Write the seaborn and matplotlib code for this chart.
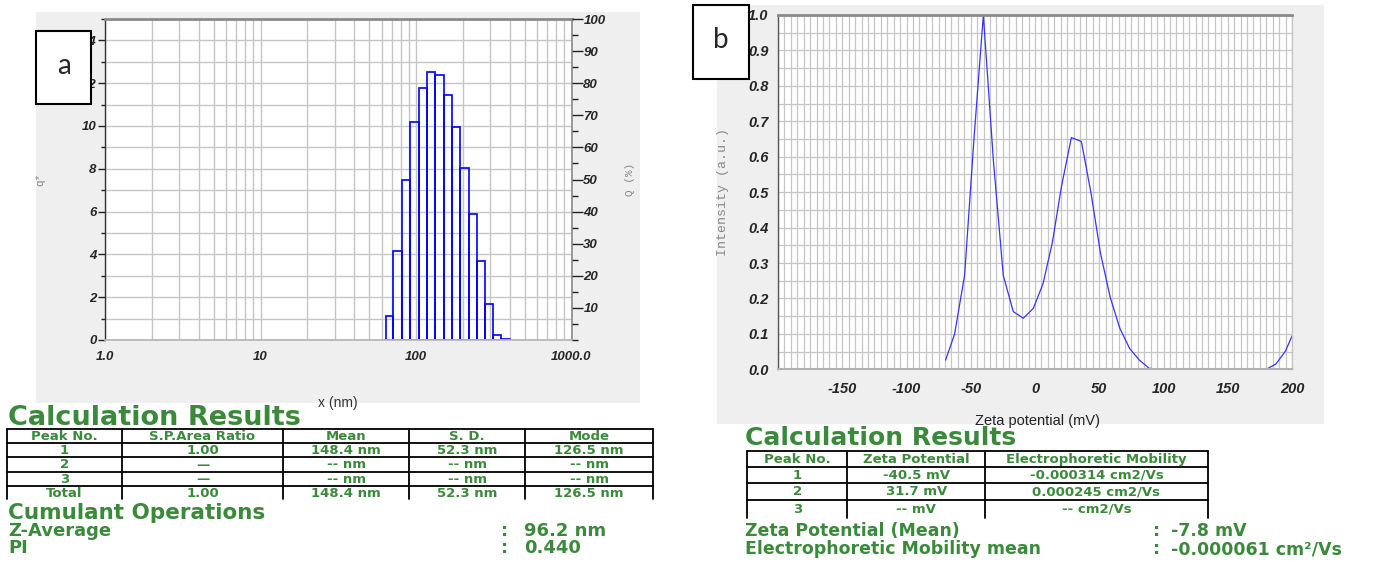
import numpy as np
import pandas as pd
import matplotlib
matplotlib.use("Agg")
import matplotlib.pyplot as plt
from matplotlib.patches import Rectangle
from matplotlib.lines import Line2D
from matplotlib.ticker import MultipleLocator, NullFormatter, LogLocator, FixedLocator
import seaborn as sns

# ---------------- data ----------------
# Panel a: particle size distribution (q*) on log-spaced bins
size_bin_edges_nm = [64.1, 71.5, 80.9, 91.9, 104.1, 117.7, 133.1, 150.7,
                     170.4, 192.7, 218.3, 245.7, 276.6, 312.8, 353.8, 402.2]
size_q_density = [1.14, 4.17, 7.48, 10.17, 11.78, 12.53, 12.38, 11.47,
                  9.97, 8.03, 5.90, 3.67, 1.66, 0.22, 0.03]
size_xtick_values = [1, 10, 100, 1000]
size_xtick_labels = ["1.0", "10", "100", "1000.0"]
size_ytick_values = [0, 2, 4, 6, 8, 10, 12, 14]
q_percent_ticks = [10, 20, 30, 40, 50, 60, 70, 80, 90, 100]

# Panel b: zeta potential distribution
zeta_mv = [-69.6, -62.6, -54.8, -47.5, -40.2, -32.4, -24.7, -16.9, -9.1, -1.3,
           6.2, 13.4, 20.6, 28.3, 36.1, 43.6, 51.0, 58.6, 66.0, 73.6,
           81.2, 88.8, 96.4, 180.0, 187.5, 195.0, 200.0]
zeta_intensity = [0.026, 0.099, 0.265, 0.65, 1.00, 0.59, 0.265, 0.163, 0.144, 0.172,
                  0.241, 0.356, 0.516, 0.654, 0.643, 0.497, 0.327, 0.202, 0.116, 0.059,
                  0.026, 0.003, 0.0, 0.0, 0.015, 0.052, 0.094]
zeta_xtick_values = [-200, -150, -100, -50, 0, 50, 100, 150, 200]
zeta_xtick_labels = ["", "-150", "-100", "-50", "0", "50", "100", "150", "200"]
zeta_ytick_values = [0.0, 0.1, 0.2, 0.3, 0.4, 0.5, 0.6, 0.7, 0.8, 0.9, 1.0]

# Result tables
size_table_header = ["Peak No.", "S.P.Area Ratio", "Mean", "S. D.", "Mode"]
size_table_rows = [["1", "1.00", "148.4 nm", "52.3 nm", "126.5 nm"],
                   ["2", "—", "-- nm", "-- nm", "-- nm"],
                   ["3", "—", "-- nm", "-- nm", "-- nm"],
                   ["Total", "1.00", "148.4 nm", "52.3 nm", "126.5 nm"]]
size_summary_labels = ["Z-Average", "PI"]
size_summary_values = ["96.2 nm", "0.440"]
zeta_table_header = ["Peak No.", "Zeta Potential", "Electrophoretic Mobility"]
zeta_table_rows = [["1", "-40.5 mV", "-0.000314 cm2/Vs"],
                   ["2", "31.7 mV", "0.000245 cm2/Vs"],
                   ["3", "-- mV", "-- cm2/Vs"]]
zeta_summary_labels = ["Zeta Potential (Mean)", "Electrophoretic Mobility mean"]
zeta_summary_values = ["-7.8 mV", "-0.000061 cm²/Vs"]

# ---------------- style ----------------
sns.set_style("white")
plt.rcParams['font.family'] = ['DejaVu Sans']
plt.rcParams['axes.unicode_minus'] = False

W, H = 1376, 563
fig = plt.figure(figsize=(W / 100, H / 100), dpi=100)
fig.patch.set_facecolor("white")


def fig_rect(l, t, r, b):
    return [l / W, 1 - b / H, (r - l) / W, (b - t) / H]


PANEL_BG = "#efefef"
GRID = "#c6c6c6"
GREEN = "#3b8a3b"
TICKFONT = dict(fontfamily="Liberation Sans", fontweight="bold", fontstyle="italic")

# background layer (pixel coordinates)
bg = fig.add_axes([0, 0, 1, 1], zorder=0)
bg.set_xlim(0, W); bg.set_ylim(H, 0); bg.axis("off")
bg.add_patch(Rectangle((36, 12), 604, 391, color=PANEL_BG, lw=0))
bg.add_patch(Rectangle((717, 5), 607, 419, color=PANEL_BG, lw=0))

# ---------------- panel a ----------------
ax_a = fig.add_axes(fig_rect(105, 19, 571.5, 340), zorder=1)
ax_a.set_facecolor("white")
edges = np.array(size_bin_edges_nm, dtype=float)
size_df = pd.DataFrame({"size_nm": np.sqrt(edges[:-1] * edges[1:]),
                        "q": np.array(size_q_density, dtype=float)})
sns.histplot(data=size_df, x="size_nm", weights="q",
             bins=[float(v) for v in np.log10(edges)],
             log_scale=True, fill=False, element="bars", color="#0000ff",
             linewidth=1.2, ax=ax_a)
ax_a.set_xlim(1, 1000)
ax_a.set_ylim(0, 15)
ax_a.set_axisbelow(True)
ax_a.xaxis.set_major_locator(FixedLocator(size_xtick_values))
ax_a.xaxis.set_minor_locator(LogLocator(base=10, subs=range(2, 10)))
ax_a.xaxis.set_minor_formatter(NullFormatter())
ax_a.set_xticks(size_xtick_values, size_xtick_labels, fontsize=9.5, **TICKFONT)
ax_a.set_yticks(size_ytick_values, [str(v) for v in size_ytick_values], fontsize=9.5, **TICKFONT)
ax_a.yaxis.set_minor_locator(MultipleLocator(1))
ax_a.grid(which="both", color=GRID, lw=1.0)
ax_a.tick_params(axis="x", which="major", direction="out", length=6, width=1, pad=2, color="#222222")
ax_a.tick_params(axis="x", which="minor", direction="out", length=4, width=1, color="#222222")
ax_a.tick_params(axis="y", which="major", direction="out", length=5, width=1, pad=1, color="#222222")
ax_a.tick_params(axis="y", which="minor", direction="out", length=3, width=1, color="#222222")
ax_a.spines["top"].set_color("#8a8a8a"); ax_a.spines["top"].set_linewidth(2)
ax_a.spines["right"].set_color("#8a8a8a"); ax_a.spines["right"].set_linewidth(1.2)
ax_a.spines["left"].set_color("#333333"); ax_a.spines["left"].set_linewidth(1.0)
ax_a.spines["bottom"].set_color("#b8b8b8"); ax_a.spines["bottom"].set_linewidth(1.3)
ax_a.set_xlabel("x (nm)", fontfamily="Liberation Sans", fontsize=10, color="#333333")
ax_a.xaxis.set_label_coords(0.5, -0.175)
ax_a.set_ylabel("q*", fontfamily="Liberation Mono", fontsize=8, color="#888888")
ax_a.yaxis.set_label_coords(-0.128, 0.5)

ax_a2 = ax_a.twinx()
ax_a2.set_zorder(2)
ax_a2.patch.set_visible(False)
ax_a2.set_ylim(0, 100)
ax_a2.set_yticks(q_percent_ticks, [str(v) for v in q_percent_ticks], fontsize=9.5, **TICKFONT)
ax_a2.yaxis.set_minor_locator(MultipleLocator(5))
ax_a2.tick_params(axis="y", which="major", direction="out", length=8, width=1, pad=0.5, color="#222222")
ax_a2.tick_params(axis="y", which="minor", direction="out", length=4, width=1, color="#222222")
for s in ax_a2.spines.values():
    s.set_visible(False)
ax_a2.set_ylabel("Q (%)", fontfamily="Liberation Mono", fontsize=8, color="#888888", rotation=90)
ax_a2.yaxis.set_label_coords(1.115, 0.5)

# ---------------- panel b ----------------
ax_b = fig.add_axes(fig_rect(778, 15, 1292, 369.3), zorder=1)
ax_b.set_facecolor("white")
zeta_df = pd.DataFrame({"zeta": zeta_mv, "intensity": zeta_intensity})
sns.lineplot(data=zeta_df, x="zeta", y="intensity", ax=ax_b, color="#3535ff", linewidth=0.9)
ax_b.set_xlim(-200, 200)
ax_b.set_ylim(0, 1)
ax_b.set_axisbelow(True)
ax_b.set_xticks(zeta_xtick_values, zeta_xtick_labels, fontsize=10.5, **TICKFONT)
ax_b.set_yticks(zeta_ytick_values, [f"{v:.1f}" for v in zeta_ytick_values], fontsize=10.5, **TICKFONT)
ax_b.xaxis.set_minor_locator(MultipleLocator(5))
ax_b.yaxis.set_minor_locator(MultipleLocator(0.05))
ax_b.grid(which="both", color=GRID, lw=0.9)
ax_b.tick_params(axis="x", which="major", direction="out", length=8, width=1, pad=1, color="#222222")
ax_b.tick_params(axis="x", which="minor", direction="out", length=4.5, width=1, color="#222222")
ax_b.tick_params(axis="y", which="major", direction="out", length=6, width=1, pad=1, color="#222222")
ax_b.tick_params(axis="y", which="minor", direction="out", length=3, width=1, color="#222222")
ax_b.spines["top"].set_color("#8a8a8a"); ax_b.spines["top"].set_linewidth(2)
ax_b.spines["right"].set_color(GRID); ax_b.spines["right"].set_linewidth(1)
ax_b.spines["left"].set_color("#555555"); ax_b.spines["left"].set_linewidth(1.0)
ax_b.spines["bottom"].set_color("#b0b0b0"); ax_b.spines["bottom"].set_linewidth(1.5)
ax_b.set_xlabel("Zeta potential (mV)", fontfamily="Liberation Sans", fontsize=10.5, color="#222222")
ax_b.xaxis.set_label_coords(0.504, -0.125)
ax_b.set_ylabel("Intensity (a.u.)", fontfamily="Liberation Mono", fontsize=9.5, color="#888888")
ax_b.yaxis.set_label_coords(-0.095, 0.5)

# ---------------- overlay: boxes and tables ----------------
ov = fig.add_axes([0, 0, 1, 1], zorder=10)
ov.set_xlim(0, W); ov.set_ylim(H, 0); ov.axis("off")
ov.patch.set_alpha(0)

ov.add_patch(Rectangle((36, 31), 55, 73, fc="white", ec="black", lw=1.5))
ov.text(63.5, 66, "a", ha="center", va="center", fontsize=20, fontfamily="Lato")
ov.add_patch(Rectangle((693, 5), 56, 74, fc="white", ec="black", lw=1.5))
ov.text(721, 40, "b", ha="center", va="center", fontsize=20, fontfamily="Lato")

TXT = dict(color=GREEN, fontfamily="DejaVu Sans", fontweight="bold")


def draw_table(col_x, line_y, vbottom, header, rows, fs):
    for y in line_y:
        ov.add_line(Line2D([col_x[0], col_x[-1]], [y, y], color="black", lw=1.3))
    for x in col_x:
        ov.add_line(Line2D([x, x], [line_y[0], vbottom], color="black", lw=1.3))
    bounds = list(line_y) + [vbottom]
    all_rows = [header] + rows
    for r, row in enumerate(all_rows):
        yc = (bounds[r] + bounds[r + 1]) / 2 + 0.5
        for c, txt in enumerate(row):
            xc = (col_x[c] + col_x[c + 1]) / 2
            ov.text(xc, yc, txt, ha="center", va="center", fontsize=fs, **TXT)


# table a
ov.text(8, 425, "Calculation Results", ha="left", va="baseline", fontsize=19.5, **TXT)
draw_table([7, 121.7, 283.3, 409.3, 525, 653.3], [429.3, 443.3, 457.3, 471.7, 486], 499.3,
           size_table_header, size_table_rows, 9.5)
ov.text(8, 519, "Cumulant Operations", ha="left", va="baseline", fontsize=15.5, **TXT)
for lab, val, yb in zip(size_summary_labels, size_summary_values, [536, 553]):
    ov.text(8, yb, lab, ha="left", va="baseline", fontsize=13, **TXT)
    ov.text(501, yb, ":", ha="left", va="baseline", fontsize=13, **TXT)
    ov.text(524, yb, val, ha="left", va="baseline", fontsize=13, **TXT)

# table b
ov.text(745, 445, "Calculation Results", ha="left", va="baseline", fontsize=18, **TXT)
draw_table([747.3, 847.3, 985, 1208], [450.7, 466.7, 482.7, 500], 518,
           zeta_table_header, zeta_table_rows, 9.5)
for lab, val, yb in zip(zeta_summary_labels, zeta_summary_values, [535.5, 554]):
    ov.text(745, yb, lab, ha="left", va="baseline", fontsize=12.5, **TXT)
    ov.text(1153, yb, ":", ha="left", va="baseline", fontsize=12.5, **TXT)
    ov.text(1171, yb, val, ha="left", va="baseline", fontsize=12.5, **TXT)

fig.savefig("out.png", dpi=100)
